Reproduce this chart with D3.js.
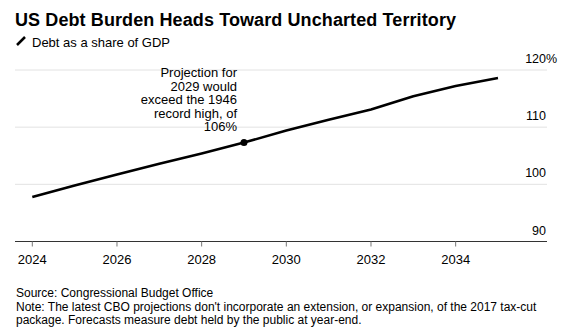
<!DOCTYPE html>
<html>
<head>
<meta charset="utf-8">
<script src="https://cdn.jsdelivr.net/npm/d3@7"></script>
<style>
  body { margin: 0; background: #fff; }
  text { font-family: "Liberation Sans", Arial, sans-serif; fill: #000; }
</style>
</head>
<body>
<svg id="canvas" width="564" height="334"></svg>
<script>
let years = [2024, 2025, 2026, 2027, 2028, 2029, 2030, 2031, 2032, 2033, 2034, 2035]
let debtShare = [97.8, 99.8, 101.7, 103.6, 105.4, 107.3, 109.4, 111.3, 113.1, 115.4, 117.2, 118.6]
let yTicks = [90, 100, 110, 120]
let xTicks = [2024, 2026, 2028, 2030, 2032, 2034]
let noteYear = 2029
let noteLines = ["Projection for", "2029 would", "exceed the 1946", "record high, of", "106%"]
let footLines = [
    "Source: Congressional Budget Office",
    "Note: The latest CBO projections don't incorporate an extension, or expansion, of the 2017 tax-cut",
    "package. Forecasts measure debt held by the public at year-end."
]

let canvas = d3.select("#canvas")

let x = d3.scaleLinear().domain([2024, 2035]).range([32.3, 498])
let y = d3.scaleLinear().domain([90, 120]).range([241.5, 70])
let left = 15
let right = 547

// title + subtitle
canvas.append("text")
    .attr("x", 15).attr("y", 26)
    .attr("font-size", 18).attr("font-weight", "bold")
    .attr("letter-spacing", 0.1)
    .text("US Debt Burden Heads Toward Uncharted Territory")

canvas.append("line")
    .attr("x1", 17).attr("y1", 45).attr("x2", 25).attr("y2", 37)
    .attr("stroke", "#000").attr("stroke-width", 2.5)

canvas.append("text")
    .attr("x", 32).attr("y", 47)
    .attr("font-size", 13)
    .text("Debt as a share of GDP")

// gridlines
canvas.selectAll(".grid")
    .data(yTicks.filter(d => d > 90))
    .enter()
    .append("line")
    .attr("class", "grid")
    .attr("x1", left).attr("x2", right)
    .attr("y1", d => y(d)).attr("y2", d => y(d))
    .attr("stroke", "#e2e2e2").attr("stroke-width", 1)

// y labels
canvas.selectAll(".ylab")
    .data(yTicks)
    .enter()
    .append("text")
    .attr("class", "ylab")
    .attr("x", 546)
    .attr("y", d => y(d) - 7)
    .attr("text-anchor", "end")
    .attr("font-size", 12.5)
    .text(d => d)

canvas.append("text")
    .attr("x", 546).attr("y", y(120) - 7)
    .attr("font-size", 12.5)
    .text("%")

// x axis
canvas.append("line")
    .attr("x1", left).attr("x2", right)
    .attr("y1", y(90)).attr("y2", y(90))
    .attr("stroke", "#333").attr("stroke-width", 1)

canvas.selectAll(".xtick")
    .data(xTicks)
    .enter()
    .append("line")
    .attr("class", "xtick")
    .attr("x1", d => x(d)).attr("x2", d => x(d))
    .attr("y1", y(90)).attr("y2", y(90) + 5)
    .attr("stroke", "#777").attr("stroke-width", 1)

canvas.selectAll(".xlab")
    .data(xTicks)
    .enter()
    .append("text")
    .attr("class", "xlab")
    .attr("x", d => x(d))
    .attr("y", 264)
    .attr("text-anchor", "middle")
    .attr("font-size", 13)
    .text(d => d)

// the line
let line = d3.line()
    .x((d, i) => x(years[i]))
    .y(d => y(d))

canvas.append("path")
    .datum(debtShare)
    .attr("d", line)
    .attr("fill", "none")
    .attr("stroke", "#000")
    .attr("stroke-width", 2.6)
    .attr("stroke-linejoin", "round")

let noteIdx = years.indexOf(noteYear)
canvas.append("circle")
    .attr("cx", x(noteYear))
    .attr("cy", y(debtShare[noteIdx]))
    .attr("r", 3.5)
    .attr("fill", "#000")

// annotation
canvas.selectAll(".note")
    .data(noteLines)
    .enter()
    .append("text")
    .attr("class", "note")
    .attr("x", 237)
    .attr("y", (d, i) => 77 + i * 13.5)
    .attr("text-anchor", "end")
    .attr("font-size", 13)
    .text(d => d)

// footer
canvas.selectAll(".foot")
    .data(footLines)
    .enter()
    .append("text")
    .attr("class", "foot")
    .attr("x", 16)
    .attr("y", (d, i) => 297 + i * 13.5)
    .attr("font-size", 12)
    .text(d => d)
</script>
</body>
</html>
